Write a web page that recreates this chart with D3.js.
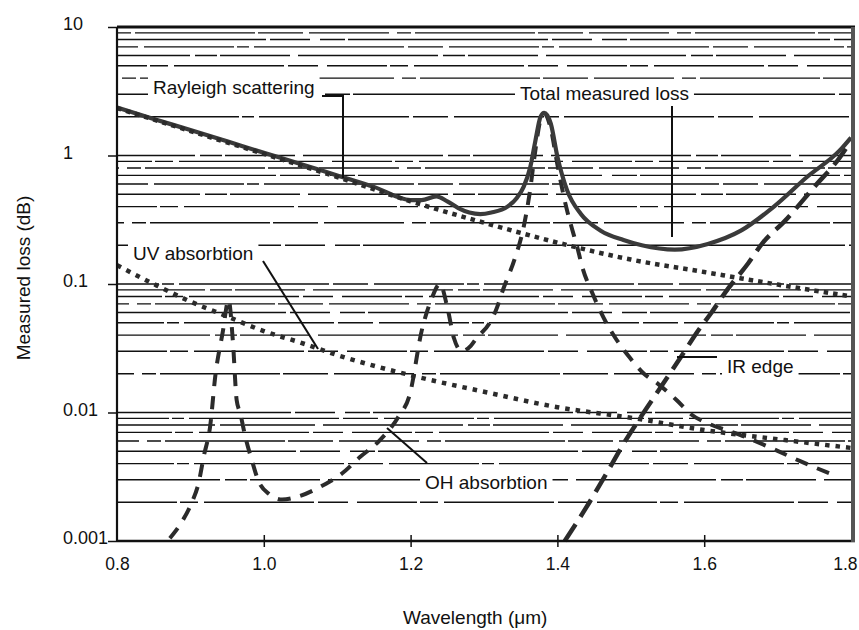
<!DOCTYPE html>
<html>
<head>
<meta charset="utf-8">
<script src="https://cdn.jsdelivr.net/npm/d3@7"></script>
<style>
  body { margin: 0; background: #fff; }
  svg { display: block; }
  text { font-family: "Liberation Sans", Arial, Helvetica, sans-serif; fill: #111; }
</style>
</head>
<body>
<svg id="chart" width="859" height="630"></svg>
<script>
// Wavelength (µm) and loss (dB) for each contribution
const rayleighWl   = [0.8, 0.9, 1.0, 1.1, 1.2, 1.3, 1.4, 1.5, 1.6, 1.7, 1.8];
const rayleighLoss = [2.34, 1.55, 1.03, 0.68, 0.44, 0.30, 0.21, 0.155, 0.124, 0.099, 0.08];

const totalWl   = [0.8, 0.85, 0.9, 0.95, 1.0, 1.05, 1.1, 1.15, 1.2, 1.215, 1.235, 1.25, 1.265, 1.28, 1.295, 1.31, 1.332, 1.345, 1.354, 1.363, 1.37, 1.377, 1.382, 1.391, 1.40, 1.413, 1.432, 1.459, 1.49, 1.515, 1.56, 1.605, 1.65, 1.695, 1.74, 1.785, 1.8];
const totalLoss = [2.36, 1.92, 1.58, 1.29, 1.05, 0.86, 0.70, 0.57, 0.45, 0.45, 0.48, 0.44, 0.39, 0.36, 0.35, 0.36, 0.40, 0.47, 0.57, 0.81, 1.3, 2.0, 2.15, 1.77, 0.98, 0.54, 0.35, 0.26, 0.22, 0.20, 0.185, 0.205, 0.26, 0.40, 0.68, 1.10, 1.38];

const uvWl   = [0.8, 0.85, 0.9, 0.95, 1.0, 1.05, 1.1, 1.2, 1.3, 1.4, 1.5, 1.6, 1.7, 1.8];
const uvLoss = [0.14, 0.10, 0.073, 0.056, 0.043, 0.035, 0.028, 0.0195, 0.0145, 0.011, 0.0091, 0.0073, 0.0062, 0.0053];

const ohWl   = [0.872, 0.888, 0.902, 0.911, 0.918, 0.927, 0.934, 0.944, 0.952, 0.958, 0.963, 0.968, 0.975, 0.984, 0.992, 1.008, 1.025, 1.045, 1.08, 1.105, 1.131, 1.157, 1.183, 1.199, 1.215, 1.228, 1.24, 1.25, 1.259, 1.27, 1.282, 1.29, 1.307, 1.316, 1.327, 1.341, 1.354, 1.362, 1.37, 1.377, 1.382, 1.39, 1.40, 1.411, 1.418, 1.427, 1.434, 1.448, 1.46, 1.479, 1.498, 1.518, 1.537, 1.563, 1.582, 1.608, 1.646, 1.691, 1.73, 1.78];
const ohLoss = [0.00105, 0.0014, 0.002, 0.0028, 0.0045, 0.0079, 0.0194, 0.042, 0.075, 0.035, 0.0125, 0.0098, 0.0064, 0.0042, 0.003, 0.0023, 0.0021, 0.0022, 0.0027, 0.0033, 0.0045, 0.006, 0.0092, 0.0139, 0.043, 0.075, 0.1, 0.066, 0.038, 0.03, 0.033, 0.038, 0.049, 0.062, 0.094, 0.152, 0.277, 0.5, 1.1, 1.9, 2.1, 1.7, 0.85, 0.42, 0.294, 0.194, 0.135, 0.084, 0.059, 0.038, 0.027, 0.02, 0.0167, 0.0124, 0.0097, 0.0081, 0.0068, 0.0053, 0.0042, 0.0032];

const irWl   = [1.41, 1.43, 1.45, 1.47, 1.49, 1.515, 1.54, 1.57, 1.59, 1.61, 1.63, 1.66, 1.68, 1.71, 1.75, 1.785, 1.8];
const irLoss = [0.001, 0.0015, 0.0023, 0.0036, 0.0057, 0.0095, 0.0155, 0.028, 0.042, 0.06, 0.088, 0.145, 0.21, 0.31, 0.57, 0.97, 1.3];

// Axis ticks
const xTicks = [0.8, 1.0, 1.2, 1.4, 1.6, 1.8];
const yTicks = [0.001, 0.01, 0.1, 1, 10];
const yTickLabels = ["0.001", "0.01", "0.1", "1", "10"];

// Horizontal rules at every 1..9 step of each decade
const gridDecades = [0.001, 0.01, 0.1, 1];
const gridSteps = [1, 2, 3, 4, 5, 6, 7, 8, 9];

const svg = d3.select("#chart");
const x = d3.scaleLinear().domain([0.8, 1.8]).range([117, 851]);
const y = d3.scaleLog().domain([0.001, 10]).range([541, 27]);
const plotLeft = 117, plotRight = 853, plotTop = 27, plotBottom = 541;

// broken-rule patterns for the ruled background
const gridDash = ["60,3,18,6,110,4,30,9", "140,5,22,3,70,8", "35,6,90,3,12,5,150,4", "200,4,40,10,25,3", "80,8,14,4,120,3,45,6"];
const gridVals = [];
gridDecades.forEach(d => gridSteps.forEach(k => { const v = +(k * d).toPrecision(3); if (v > 0.001) gridVals.push(v); }));

svg.append("g").selectAll("line").data(gridVals).join("line")
  .attr("x1", plotLeft).attr("x2", plotRight)
  .attr("y1", d => y(d)).attr("y2", d => y(d))
  .attr("stroke", "#111").attr("stroke-width", 1.4)
  .attr("stroke-dasharray", (d, i) => gridDash[i % gridDash.length])
  .attr("stroke-dashoffset", (d, i) => (i * 37) % 90);

// Annotation labels on white backing so the rules break around them
const notes = [
  { text: "Rayleigh scattering", x: 153, y: 94 },
  { text: "Total measured loss", x: 520, y: 100 },
  { text: "UV absorbtion", x: 133, y: 260 },
  { text: "IR edge", x: 727, y: 373 },
  { text: "OH absorbtion", x: 425, y: 489 }
];
const noteG = svg.append("g");
notes.forEach(n => {
  const g = noteG.append("g");
  const t = g.append("text").attr("x", n.x).attr("y", n.y).attr("font-size", 19).text(n.text);
  const b = t.node().getBBox();
  g.insert("rect", "text").attr("x", b.x - 5).attr("y", b.y - 2).attr("width", b.width + 10).attr("height", b.height + 4).attr("fill", "#fff");
});

function series(wl, loss) { return wl.map((w, i) => [w, loss[i]]); }
const line = d3.line().x(d => x(d[0])).y(d => y(d[1])).curve(d3.curveMonotoneX);

const curves = svg.append("g").attr("fill", "none");
// UV absorption (dotted)
curves.append("path").datum(series(uvWl, uvLoss)).attr("d", line)
  .attr("stroke", "#2b2b2b").attr("stroke-width", 4.5).attr("stroke-dasharray", "4.5,6");
// OH absorption (dashed)
curves.append("path").datum(series(ohWl, ohLoss)).attr("d", line)
  .attr("stroke", "#2b2b2b").attr("stroke-width", 4).attr("stroke-dasharray", "13,10");
// IR edge (long dashes)
curves.append("path").datum(series(irWl, irLoss)).attr("d", line)
  .attr("stroke", "#2b2b2b").attr("stroke-width", 4.5).attr("stroke-dasharray", "20,9");
// Total measured loss (solid)
curves.append("path").datum(series(totalWl, totalLoss)).attr("d", line)
  .attr("stroke", "#3a3a3a").attr("stroke-width", 4.2).attr("stroke-linejoin", "round");
// Rayleigh scattering (dotted)
curves.append("path").datum(series(rayleighWl, rayleighLoss)).attr("d", line)
  .attr("stroke", "#2b2b2b").attr("stroke-width", 4.5).attr("stroke-dasharray", "4.5,5");

// Leader lines from labels to curves
const leaders = [
  [[322, 96], [343, 96], [343, 178]],
  [[672, 106], [672, 237]],
  [[263, 261], [318, 349]],
  [[717, 357], [677, 357]],
  [[427, 463], [387, 428]]
];
svg.append("g").selectAll("path").data(leaders).join("path")
  .attr("d", d => d3.line()(d)).attr("fill", "none")
  .attr("stroke", "#111").attr("stroke-width", 2);

// Frame
const frame = svg.append("g").attr("fill", "none");
frame.append("line").attr("x1", plotLeft).attr("x2", plotRight + 2).attr("y1", plotTop).attr("y2", plotTop).attr("stroke", "#111").attr("stroke-width", 3);
frame.append("line").attr("x1", plotLeft).attr("x2", plotRight + 2).attr("y1", plotBottom).attr("y2", plotBottom).attr("stroke", "#111").attr("stroke-width", 2.5);
frame.append("line").attr("x1", plotLeft).attr("x2", plotLeft).attr("y1", plotTop).attr("y2", plotBottom).attr("stroke", "#111").attr("stroke-width", 2.2);
frame.append("line").attr("x1", plotRight).attr("x2", plotRight).attr("y1", plotTop).attr("y2", plotBottom + 1).attr("stroke", "#555").attr("stroke-width", 4);

// X axis
const xAxis = svg.append("g").attr("transform", `translate(0,${plotBottom})`)
  .call(d3.axisBottom(x).tickValues(xTicks).tickFormat(d3.format(".1f")).tickSize(6));
xAxis.select(".domain").remove();
xAxis.selectAll(".tick line").attr("y1", -6).attr("y2", 6).attr("stroke", "#111").attr("stroke-width", 1.5)
  .filter(d => d === 0.8 || d === 1.8).remove();
xAxis.selectAll(".tick text").attr("y", 29).attr("dy", 0).attr("font-size", 17.5)
  .attr("font-family", "Liberation Sans, Arial, sans-serif").attr("fill", "#111");
// last label sits flush against the right edge
xAxis.selectAll(".tick text").filter(d => d === 1.8).attr("text-anchor", "end").attr("x", 857 - x(1.8));

// Y axis
const yAxis = svg.append("g").attr("transform", `translate(${plotLeft},0)`)
  .call(d3.axisLeft(y).tickValues(yTicks).tickFormat((d, i) => yTickLabels[i]).tickSize(9));
yAxis.select(".domain").remove();
yAxis.selectAll(".tick line").attr("stroke", "#111").attr("stroke-width", 1.5);
yAxis.selectAll(".tick text").attr("x", 63 - plotLeft).attr("text-anchor", "start").attr("dy", "0.32em")
  .attr("y", -3).attr("font-size", 18).attr("font-family", "Liberation Sans, Arial, sans-serif").attr("fill", "#111");

// Axis titles
svg.append("text").attr("x", 403).attr("y", 624).attr("font-size", 19).text("Wavelength (\u03bcm)");
svg.append("text").attr("transform", "translate(30,278) rotate(-90)").attr("text-anchor", "middle")
  .attr("font-size", 19).text("Measured loss (dB)");
</script>
</body>
</html>
